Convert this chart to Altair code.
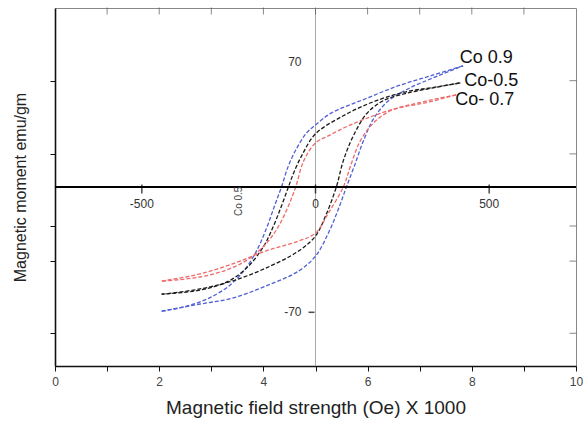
import altair as alt
import pandas as pd

# ---- data: magnetic field H (Oe) and moment M (emu/gm) ----
series_names = ["Co 0.9", "Co-0.5", "Co- 0.7"]
series_colors = ["#4f5fd6", "#1a1a1a", "#ee6a6a"]

blue_up_H = [425, 333, 239, 144, 46, 0, -26, -55, -78, -98, -118, -141, -170, -207, -250, -308, -371, -443]
blue_up_M = [67.7, 62.2, 56.6, 49.3, 41.4, 34.7, 30.2, 21.3, 11.8, 0, -10.6, -23.0, -35.8, -47.0, -55.4, -62.2, -66.6, -69.4]
blue_dn_H = [-443, -336, -241, -144, -49, 0, 37, 66, 89, 112, 138, 167, 210, 267, 339, 425]
blue_dn_M = [-69.4, -65.5, -62.2, -55.4, -47.0, -38.6, -25.8, -12.3, 0, 11.8, 25.8, 38.1, 48.2, 54.9, 61.0, 67.7]

black_up_H = [417, 333, 276, 218, 152, 80, 0, -40, -63, -78, -98, -121, -149, -193, -250, -336, -443]
black_up_M = [58.2, 55.4, 53.8, 51.0, 46.5, 39.8, 29.7, 17.4, 7.8, 0, -10.6, -21.8, -33.0, -44.2, -52.6, -57.7, -59.9]
black_dn_H = [-443, -336, -241, -144, -49, 0, 29, 60, 80, 109, 147, 195, 267, 339, 417]
black_dn_M = [-59.9, -57.1, -52.6, -45.4, -35.8, -27.4, -16.2, 0, 14.6, 28.6, 40.9, 48.2, 52.6, 55.4, 58.2]

red_up_H = [405, 316, 239, 167, 95, 37, 0, -34, -57, -78, -106, -141, -193, -250, -336, -443]
red_up_M = [51.5, 47.0, 44.2, 39.8, 34.2, 28.6, 24.6, 14.6, 0, -10.6, -21.8, -31.4, -40.3, -45.9, -50.4, -52.6]
red_dn_H = [-443, -336, -241, -144, -49, 0, 37, 80, 101, 129, 167, 216, 296, 405]
red_dn_M = [-52.6, -48.7, -43.1, -35.8, -30.2, -25.8, -14.6, 0, 11.8, 25.8, 35.8, 42.6, 47.0, 51.5]

branches = [
    ("Co 0.9", "blue_up", blue_up_H, blue_up_M),
    ("Co 0.9", "blue_dn", blue_dn_H, blue_dn_M),
    ("Co-0.5", "black_up", black_up_H, black_up_M),
    ("Co-0.5", "black_dn", black_dn_H, black_dn_M),
    ("Co- 0.7", "red_up", red_up_H, red_up_M),
    ("Co- 0.7", "red_dn", red_dn_H, red_dn_M),
]
rows = []
for s, b, hs, ms in branches:
    for i, (h, m) in enumerate(zip(hs, ms)):
        rows.append({"series": s, "branch": b, "idx": i, "H": h, "M": m})
df = pd.DataFrame(rows)

outer_tick_H = [-750, -600, -450, -300, -150, 0, 150, 300, 450, 600, 750]
side_tick_M = [59.4, 18.5, -21.8, -41.4, -81.7]
inner_H = [-500, 0, 500]
inner_labels = ["-500", "0", "500"]

label_H = [415, 428, 402]
label_M = [72.2, 59.4, 48.7]

FONT = "Liberation Sans"
xs = alt.Scale(domain=[-750, 750], nice=False, zero=False)
ys = alt.Scale(domain=[-100, 100], nice=False, zero=False)

x_axis = alt.Axis(
    values=outer_tick_H,
    labelExpr="((datum.value/150+5) % 2 == 0) ? format(datum.value/150+5, 'd') : ''",
    title="Magnetic field strength (Oe) X 1000",
    titleFontSize=19, titleFontWeight="normal", titleColor="#222", titleFont=FONT,
    labelFont=FONT, labelFontSize=12, labelColor="#444", labelPadding=5,
    tickSize=5, titlePadding=11, grid=False, domainColor="#111", domainWidth=1.6,
    tickColor="#111", labelFlush=False)
y_axis = alt.Axis(
    values=side_tick_M, labels=False, title="Magnetic moment emu/gm",
    titleFontSize=16, titleFontWeight="normal", titleColor="#222", titleFont=FONT,
    tickSize=5, titlePadding=21, grid=False, domainColor="#111", domainWidth=1.6,
    tickColor="#111")

X = alt.X("H:Q", scale=xs, axis=x_axis)
Y = alt.Y("M:Q", scale=ys, axis=y_axis)

lines = alt.Chart(df).mark_line(strokeWidth=1.3, strokeDash=[4, 2], interpolate="catmull-rom").encode(
    x=X, y=Y,
    color=alt.Color("series:N", scale=alt.Scale(domain=series_names, range=series_colors), legend=None),
    detail="branch:N",
    order="idx:Q",
)

hline = alt.Chart(pd.DataFrame({"M": [0]})).mark_rule(color="#000", strokeWidth=2).encode(y=Y)
vline = alt.Chart(pd.DataFrame({"H": [0]})).mark_rule(color="#aaa", strokeWidth=1).encode(x=X)

inner_df = pd.DataFrame({"H": inner_H, "lab": inner_labels, "M": [0, 0, 0]})
inner_ticks = alt.Chart(inner_df).mark_tick(orient="vertical", size=9, thickness=1.5, color="#000", yOffset=2).encode(x=X, y=Y)
inner_text = alt.Chart(inner_df).mark_text(dy=17, fontSize=12, font=FONT, color="#333").encode(x=X, y=Y, text="lab:N")

ylab_df = pd.DataFrame({"H": [0, 0], "M": [70, -70], "lab": ["70", "-70"]})
ylab_text = alt.Chart(ylab_df).mark_text(align="right", dx=-14, fontSize=12, font=FONT, color="#333").encode(x=X, y=Y, text="lab:N")
ylab_tick = alt.Chart(ylab_df[ylab_df.M < 0]).mark_tick(orient="horizontal", size=6, thickness=1.5, color="#000", xOffset=-4).encode(x=X, y=Y)

top_df = pd.DataFrame({"H": outer_tick_H[1:-1], "M": [100] * 9})
top_ticks = alt.Chart(top_df).mark_tick(orient="vertical", size=7, thickness=1, color="#555", yOffset=3).encode(x=X, y=Y)
right_df = pd.DataFrame({"H": [750] * 5, "M": side_tick_M})
right_ticks = alt.Chart(right_df).mark_tick(orient="horizontal", size=7, thickness=1, color="#555", xOffset=-3).encode(x=X, y=Y)

lab_df = pd.DataFrame({"H": label_H, "M": label_M, "lab": series_names})
labels = alt.Chart(lab_df).mark_text(align="left", baseline="middle", fontSize=18, font=FONT, color="#111").encode(x=X, y=Y, text="lab:N")

art_df = pd.DataFrame({"H": [-220], "M": [-8], "lab": ["Co 0.5"]})
artifact = alt.Chart(art_df).mark_text(angle=270, fontSize=10, font=FONT, color="#444").encode(x=X, y=Y, text="lab:N")

chart = alt.layer(
    vline, lines, hline, inner_ticks, inner_text, ylab_text, ylab_tick,
    top_ticks, right_ticks, labels, artifact
).properties(
    width=521, height=358,
    padding={"left": 55, "top": 8, "right": 7, "bottom": 57},
    autosize=alt.AutoSizeParams(type="none"),
    background="white",
).configure_view(stroke="#888", strokeWidth=1)

chart.save("out.html", embed_options={"renderer": "svg", "actions": False})
